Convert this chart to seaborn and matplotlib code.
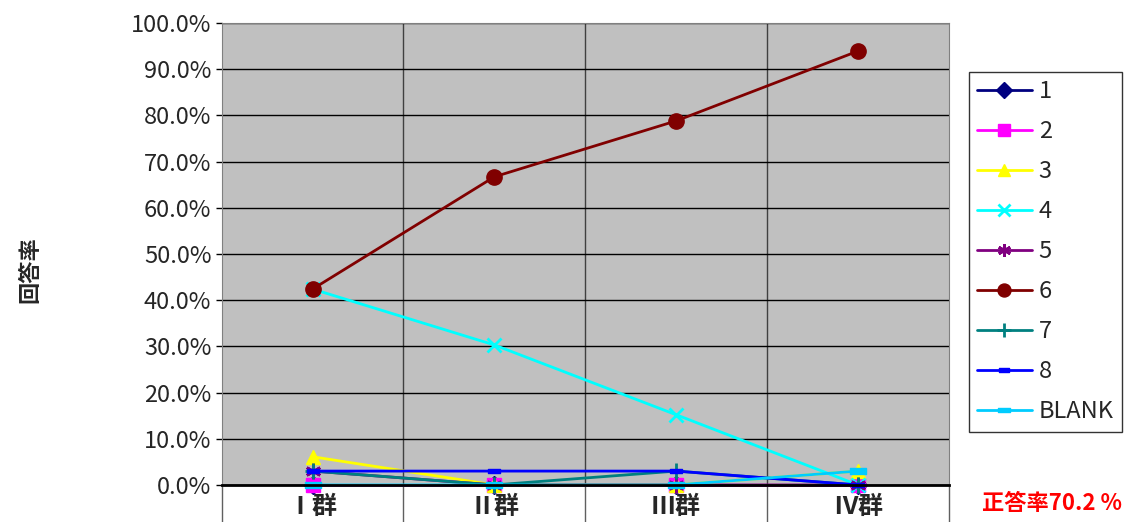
import numpy as np
import pandas as pd
import seaborn as sns
import matplotlib.pyplot as plt
from matplotlib.path import Path

# data (percent)
groups = ["Ⅰ群", "Ⅱ群", "Ⅲ群", "Ⅳ群"]
labels = ["1", "2", "3", "4", "5", "6", "7", "8", "BLANK"]
s1 = [0.0, 0.0, 0.0, 0.0]
s2 = [0.0, 0.0, 0.0, 0.0]
s3 = [6.1, 0.0, 0.0, 3.0]
s4 = [42.4, 30.3, 15.2, 0.0]
s5 = [3.0, 0.0, 0.0, 0.0]
s6 = [42.4, 66.7, 78.8, 93.9]
s7 = [3.0, 0.0, 3.0, 0.0]
s8 = [3.0, 3.0, 3.0, 0.0]
blank = [0.0, 0.0, 0.0, 3.0]
series = [s1, s2, s3, s4, s5, s6, s7, s8, blank]

sns.set_style("white")
plt.rcParams['font.family'] = ['Noto Sans CJK JP', 'DejaVu Sans']

# small bar markers like excel's dash markers
bar = Path([(-1, -0.35), (1, -0.35), (1, 0.35), (-1, 0.35), (-1, -0.35)],
           [1, 2, 2, 2, 79])
asterisk = (6, 2, 0)

colors = ["#000080", "#FF00FF", "#FFFF00", "#00FFFF", "#800080",
          "#800000", "#008080", "#0000FF", "#00CCFF"]
markers = ["D", "s", "^", "x", asterisk, "o", "+", bar, bar]
msizes = [9, 10, 10, 10, 11, 11, 12, 8, 11]

fig, ax = plt.subplots(figsize=(11.43, 5.22), dpi=100)
fig.subplots_adjust(left=0.194, right=0.830, top=0.956, bottom=0.071)
ax.set_facecolor("#C0C0C0")

x = np.arange(len(groups))
for lab, vals, c, m, ms in zip(labels, series, colors, markers, msizes):
    mew = 2 if m in ("x", "+", asterisk) else 1
    sns.lineplot(x=x, y=vals, ax=ax, color=c, marker=m, markersize=ms,
                 markeredgecolor=c, markerfacecolor=c, markeredgewidth=mew,
                 linewidth=2, label=lab, clip_on=False, legend=False)

ax.set_ylim(0, 100)
ax.set_xlim(-0.5, 3.5)
ax.set_yticks(np.arange(0, 101, 10))
ax.set_yticklabels([f"{v:.1f}%" for v in range(0, 101, 10)], fontsize=17)
ax.yaxis.grid(True, color="black", linewidth=1)
ax.set_axisbelow(True)

ax.set_xticks(x)
ax.set_xticklabels(groups, fontsize=18, fontweight="bold")
ax.tick_params(axis="x", which="major", length=0, pad=7, bottom=True)
ax.set_xticks([-0.5, 0.5, 1.5, 2.5, 3.5], minor=True)
ax.tick_params(axis="x", which="minor", length=27, width=1, color="#606060",
               direction="out", bottom=True)
for xv in [0.5, 1.5, 2.5]:
    ax.axvline(xv, color="#404040", linewidth=1, zorder=0.5)
ax.tick_params(axis="y", length=4, width=1, color="black", left=True)

for side in ["top", "right", "left"]:
    ax.spines[side].set_color("#808080")
ax.spines["bottom"].set_color("black")
ax.spines["bottom"].set_linewidth(2)

ax.set_xlabel("")
ax.set_ylabel("")
fig.text(30 / 1143, 1 - 270 / 522, "回答率", rotation=90, fontsize=16,
         fontweight="bold", ha="center", va="center")

handles, labs = ax.get_legend_handles_labels()
leg = fig.legend(handles, labs, loc="upper left",
                 bbox_to_anchor=(969 / 1143, 1 - 72 / 522),
                 fontsize=17, frameon=True, fancybox=False, edgecolor="black",
                 labelspacing=0.72, handlelength=2.3, handletextpad=0.3,
                 borderpad=0.35, borderaxespad=0, markerscale=0.85)
leg.get_frame().set_linewidth(1)

fig.text(1052 / 1143, 1 - 503 / 522, "正答率70.2 %", color="red",
         fontsize=16, fontweight="bold", ha="center", va="center")

fig.savefig("out.png", dpi=100)
